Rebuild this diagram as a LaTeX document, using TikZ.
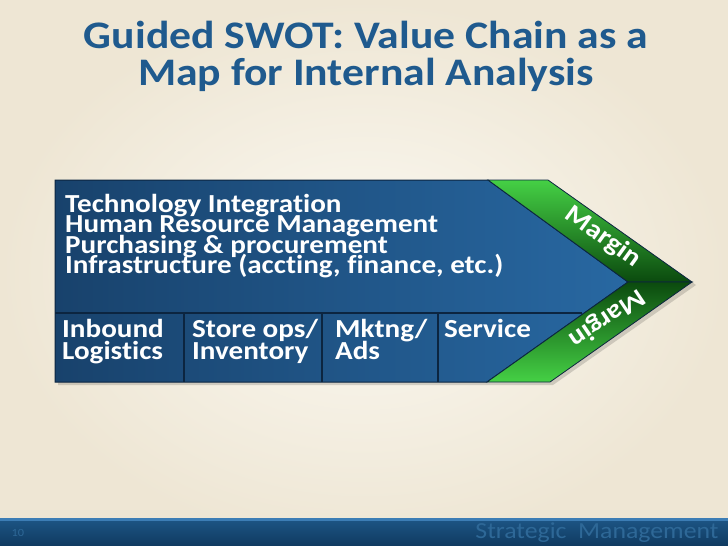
\documentclass[tikz,border=0pt]{standalone}
\usepackage{fontspec}
\setmainfont{Carlito}[FakeStretch=1.12, Ligatures=NoCommon]
\definecolor{slidecream}{HTML}{FBF9F2}
\definecolor{slideedge}{HTML}{EEE6D4}
\definecolor{titleblue}{HTML}{1F5A8E}
\definecolor{chainleft}{HTML}{18426C}
\definecolor{chainright}{HTML}{2868A2}
\definecolor{chainline}{HTML}{0C2540}
\definecolor{marginlight}{HTML}{45D045}
\definecolor{margindark}{HTML}{0B4A0E}
\definecolor{bartop}{HTML}{1D5686}
\definecolor{barbottom}{HTML}{0F3A60}
\definecolor{barlight}{HTML}{3C7DB5}
\definecolor{footblue}{HTML}{2E6897}
\newcommand{\tightlines}{\setlength{\lineskiplimit}{-100pt}\setlength{\lineskip}{0pt}}

\begin{document}
\begin{tikzpicture}[x=1pt, y=1pt,
    titletext/.style={anchor=base, text=titleblue, font=\bfseries\fontsize{39}{39}\selectfont},
    chaintext/.style={text=white, font=\bfseries\fontsize{26}{20.5}\selectfont\tightlines, align=left, inner sep=0pt, anchor=north west},
    celltext/.style={text=white, font=\bfseries\fontsize{26}{22.5}\selectfont\tightlines, align=left, inner sep=0pt, anchor=north west,
        execute at begin node={\vphantom{/}}},
    margintext/.style={text=white, font=\bfseries\fontsize{26}{26}\selectfont, inner sep=0pt}]
    \useasboundingbox (0,0) rectangle (728,-546);
    % Background
    \shade[inner color=slidecream, outer color=slideedge] (0,0) rectangle (728,-546);
    % Footer bar
    \shade[top color=bartop, bottom color=barbottom] (0,-518) rectangle (728,-546);
    \fill[barlight] (0,-518) rectangle (728,-521);
    \node[anchor=base west, text=footblue, font=\fontsize{11}{11}\selectfont] (pagenum) at (8,-536) {10};
    \node[anchor=base east, text=footblue, font=\fontsize{23}{23}\selectfont] (course) at (722,-538) {Strategic\ \ Management};
    % Title
    \node[titletext] (title1) at (366,-48) {Guided SWOT: Value Chain as a};
    \node[titletext] (title2) at (366,-85) {Map for Internal Analysis};
    % Shadow
    \fill[black, opacity=0.15] (58,-183) -- (551,-183) -- (696,-285) -- (553,-385) -- (58,-385) -- cycle;
    % Chain body
    \shade[left color=chainleft, right color=chainright, draw=chainline, line width=1pt]
        (55,-180) -- (488,-180) -- (628,-282) -- (487,-382) -- (55,-382) -- cycle;
    % Margin bands
    \shade[shading angle=125, top color=marginlight, bottom color=margindark, draw=chainline, line width=0.8pt]
        (488,-180) -- (548,-180) -- (692,-282) -- (628,-282) -- cycle;
    \shade[shading angle=55, top color=margindark, bottom color=marginlight, draw=chainline, line width=0.8pt]
        (628,-282) -- (692,-282) -- (550,-382) -- (487,-382) -- cycle;
    % Dividers
    \draw[chainline, line width=1.2pt] (55,-313) -- (582,-313);
    \foreach \xd in {184,322,438}
        \draw[chainline, line width=1.2pt] (\xd,-313) -- (\xd,-382);
    % Support activities
    \node[chaintext] (support) at (65,-194)
        {Technology Integration\\Human Resource Management\\Purchasing \& procurement\\Infrastructure (accting, finance, etc.)};
    % Primary activities
    \node[celltext] (inbound) at (62,-319) {Inbound\\Logistics};
    \node[celltext] (storeops) at (192,-319) {Store ops/\\Inventory};
    \node[celltext] (mktng) at (335,-319) {Mktng/\\Ads};
    \node[celltext] (service) at (444,-319) {Service};
    % Margin labels
    \node[margintext, rotate=-36] (marginup) at (603,-237) {Margin};
    \node[margintext, rotate=-146] (margindown) at (607,-318) {Margin};
\end{tikzpicture}
\end{document}
